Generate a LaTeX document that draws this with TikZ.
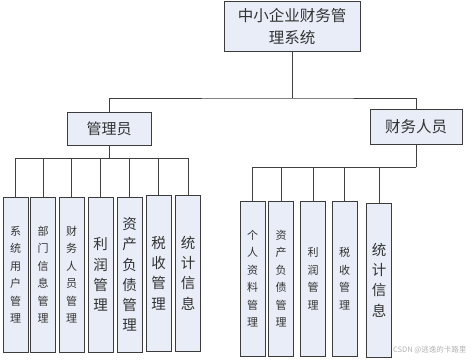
\documentclass[tikz,border=0pt]{standalone}
\usepackage{fontspec}
\setmainfont{Noto Sans CJK SC}
\usepackage{xcolor}
\usepackage{tikz}

\definecolor{boxfill}{HTML}{E8EDF7}
\definecolor{boxline}{HTML}{3C3C3C}

\tikzset{
  box/.style={draw=boxline, fill=boxfill, line width=1pt, inner sep=0pt, align=center, text=black!80},
  vsmall/.style={box, minimum width=25pt, font=\fontsize{11}{17.5}\selectfont},
  vbig/.style={box, minimum width=25pt, font=\fontsize{14.5}{20.3}\selectfont},
  link/.style={draw=black!75, line width=0.8pt},
}

\begin{document}
\begin{tikzpicture}[x=1pt, y=-1pt]
\useasboundingbox (0,0) rectangle (474,361);

\node[box, minimum width=136pt, minimum height=50pt, font=\fontsize{15.5}{22}\selectfont] (top) at (292,27) {中小企业财务管\\理系统};

\node[box, minimum width=84pt, minimum height=33pt, font=\fontsize{15}{18}\selectfont] (admin) at (109,128.5) {管理员};
\node[box, minimum width=92pt, minimum height=35pt, font=\fontsize{15.5}{18}\selectfont] (fin) at (416,126.5) {财务人员};

% 管理员的模块
\node[vsmall, minimum height=155pt] (a1) at (15.5,274.5) {系\\统\\用\\户\\管\\理};
\node[vsmall, minimum height=155pt] (a2) at (43,274.5) {部\\门\\信\\息\\管\\理};
\node[vsmall, minimum height=155pt] (a3) at (71.5,274.5) {财\\务\\人\\员\\管\\理};
\node[vbig, minimum height=155pt] (a4) at (100.5,274.5) {利\\润\\管\\理};
\node[vbig, minimum height=155pt] (a5) at (129.5,274.5) {资\\产\\负\\债\\管\\理};
\node[vbig, minimum height=156pt] (a6) at (158.5,273) {税\\收\\管\\理};
\node[vbig, minimum height=156pt] (a7) at (188,273) {统\\计\\信\\息};

% 财务人员的模块
\node[vsmall, minimum height=155pt] (f1) at (252.5,278.5) {个\\人\\资\\料\\管\\理};
\node[vsmall, minimum height=155pt] (f2) at (281,278.5) {资\\产\\负\\债\\管\\理};
\node[vsmall, minimum height=155pt] (f3) at (313,278.5) {利\\润\\管\\理};
\node[vsmall, minimum height=155pt] (f4) at (344.5,278.5) {税\\收\\管\\理};
\node[vbig, minimum height=154pt] (f5) at (379,280) {统\\计\\信\\息};

% 连线
\coordinate (split) at (292,98);
\coordinate (abus) at (109,158);
\coordinate (fbus) at (416,167);

\draw[link] (top.south) -- (split);
\draw[link] (admin.north) |- (split) -| (fin.north);

\draw[link] (admin.south) -- (abus);
\foreach \i in {1,...,7}
  \draw[link] (abus) -| (a\i.north);

\draw[link] (fin.south) -- (fbus);
\foreach \i in {1,...,5}
  \draw[link] (fbus) -| (f\i.north);

\node[anchor=east, text=black!30, font=\fontsize{7.5}{9}\selectfont] (wm) at (470,350) {CSDN @逃逸的卡路里};
\end{tikzpicture}
\end{document}
